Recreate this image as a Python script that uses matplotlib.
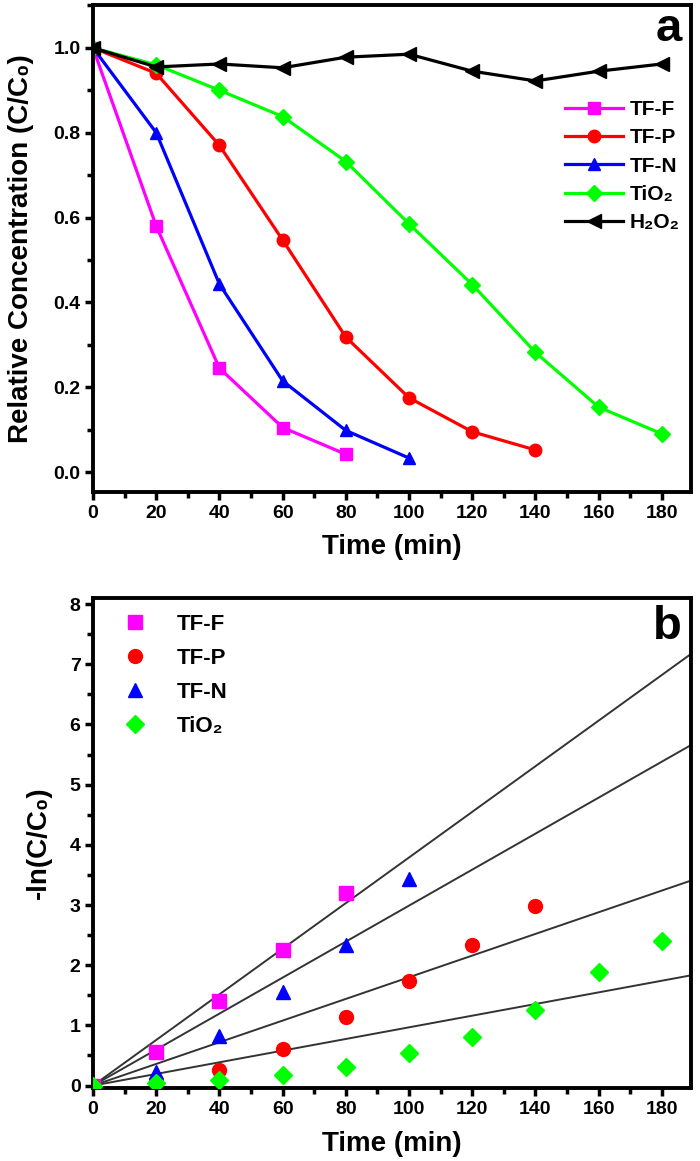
import matplotlib
matplotlib.use("Agg")
import matplotlib.pyplot as plt
from matplotlib.ticker import MultipleLocator

plt.rcParams["font.family"] = ["Liberation Sans", "DejaVu Sans"]
plt.rcParams["font.weight"] = "bold"

# Panel a: relative concentration vs time
t_all = [0, 20, 40, 60, 80, 100, 120, 140, 160, 180]
tff_c = [1.0, 0.58, 0.245, 0.105, 0.042]
tfp_c = [1.0, 0.94, 0.77, 0.547, 0.318, 0.175, 0.095, 0.052]
tfn_c = [1.0, 0.80, 0.443, 0.215, 0.098, 0.033]
tio2_c = [1.0, 0.96, 0.90, 0.838, 0.732, 0.585, 0.442, 0.282, 0.153, 0.09]
h2o2_c = [1.0, 0.955, 0.962, 0.953, 0.978, 0.985, 0.945, 0.922, 0.945, 0.962]

# Panel b: -ln(C/C0) vs time, with linear fits through origin
tff_ln = [0.0, 0.55, 1.41, 2.26, 3.20]
tfp_ln = [0.0, 0.06, 0.26, 0.60, 1.14, 1.74, 2.34, 2.98]
tfn_ln = [0.0, 0.22, 0.82, 1.55, 2.34, 3.43]
tio2_ln = [0.0, 0.04, 0.10, 0.17, 0.31, 0.54, 0.80, 1.26, 1.88, 2.41]
k_fit = [0.0379, 0.0180, 0.0299, 0.00968]  # TF-F, TF-P, TF-N, TiO2

labels = ["TF-F", "TF-P", "TF-N", "TiO₂"]
colors = ["#ff00ff", "#ff0000", "#0000ff", "#00ff00"]
markers = ["s", "o", "^", "D"]


def style_axes(ax):
    for sp in ax.spines.values():
        sp.set_linewidth(2.8)
    ax.tick_params(which="major", direction="out", length=6, width=2.5,
                   labelsize=14, top=False, right=False, pad=3)
    ax.tick_params(which="minor", direction="out", length=4, width=2.5,
                   top=False, right=False)
    ax.xaxis.set_major_locator(MultipleLocator(20))
    ax.xaxis.set_minor_locator(MultipleLocator(10))
    for lab in ax.get_xticklabels() + ax.get_yticklabels():
        lab.set_fontweight("bold")


fig = plt.figure(figsize=(7, 11.61), dpi=100)
ax1 = fig.add_axes([93 / 700, 1 - 492 / 1161, 598 / 700, 487 / 1161])
ax2 = fig.add_axes([93 / 700, 1 - 1088 / 1161, 598 / 700, 490 / 1161])

series_a = [tff_c, tfp_c, tfn_c, tio2_c]
for ys, lab, c, m in zip(series_a, labels, colors, markers):
    ms = 9 if m != "D" else 8
    ax1.plot(t_all[:len(ys)], ys, color=c, marker=m, markersize=ms,
             linewidth=2.3, label=lab)
ax1.plot(t_all, h2o2_c, color="black", marker="<", markersize=10,
         linewidth=2.3, label="H₂O₂")
ax1.set_xlim(0, 189.2)
ax1.set_ylim(-0.047, 1.101)
ax1.yaxis.set_major_locator(MultipleLocator(0.2))
ax1.yaxis.set_minor_locator(MultipleLocator(0.1))
ax1.set_xlabel("Time (min)", fontsize=20, fontweight="bold", labelpad=9)
ax1.set_ylabel("Relative Concentration (C/C₀)", fontsize=20,
               fontweight="bold")
ax1.yaxis.set_label_coords(-0.099, 0.5)
style_axes(ax1)
ax1.text(0.985, 0.995, "a", transform=ax1.transAxes, fontsize=34,
         fontweight="bold", ha="right", va="top")
ax1.legend(loc="upper left", bbox_to_anchor=(0.789, 0.805), frameon=False,
           borderpad=0, borderaxespad=0, handlelength=2.8,
           handletextpad=0.3, labelspacing=0.45,
           prop={"weight": "bold", "size": 15})

series_b = [tff_ln, tfp_ln, tfn_ln, tio2_ln]
for k in k_fit:
    ax2.axline((0, 0), slope=k, color="#333333", linewidth=1.4, zorder=1)
for ys, lab, c, m in zip(series_b, labels, colors, markers):
    ms = 10 if m != "D" else 9
    ax2.plot(t_all[:len(ys)], ys, linestyle="none", color=c, marker=m,
             markersize=ms, label=lab, zorder=3)
ax2.set_xlim(0, 189.2)
ax2.set_ylim(-0.04, 8.1)
ax2.yaxis.set_major_locator(MultipleLocator(1))
ax2.yaxis.set_minor_locator(MultipleLocator(0.5))
ax2.set_xlabel("Time (min)", fontsize=20, fontweight="bold", labelpad=10)
ax2.set_ylabel("-ln(C/C₀)", fontsize=20, fontweight="bold")
ax2.yaxis.set_label_coords(-0.069, 0.5)
style_axes(ax2)
ax2.text(0.985, 0.985, "b", transform=ax2.transAxes, fontsize=34,
         fontweight="bold", ha="right", va="top")
ax2.legend(loc="upper left", bbox_to_anchor=(0.033, 0.967), frameon=False,
           borderpad=0, borderaxespad=0, handlelength=2.0,
           handletextpad=0.9, labelspacing=0.58,
           prop={"weight": "bold", "size": 16})

fig.savefig("out.png", dpi=100)
